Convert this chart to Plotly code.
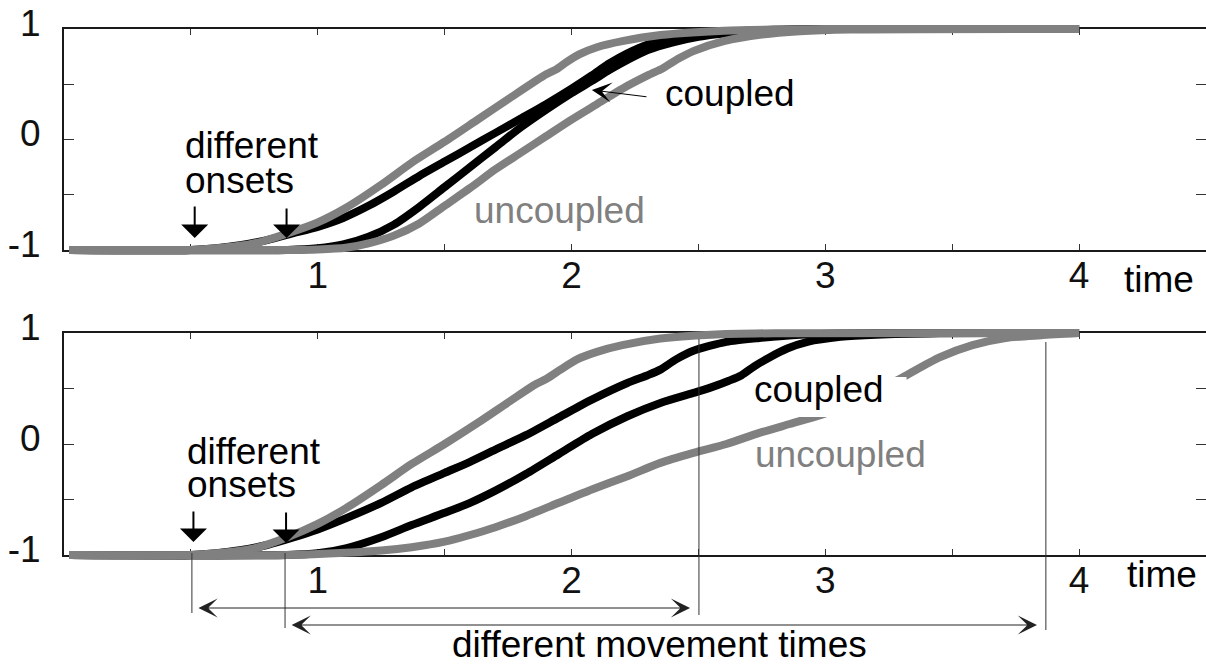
import plotly.graph_objects as go

# ------------------------------------------------------------------ data
# Top panel: "different onsets" only
TOP_G1_X = [0.02, 0.5, 0.6, 0.75, 0.88, 1.0, 1.11, 1.25, 1.37, 1.5, 1.63, 1.76, 1.9, 1.94, 1.98, 2.03, 2.1, 2.2, 2.35, 2.6, 3.0, 4.0]
TOP_G1_Y = [-1, -1, -0.985, -0.94, -0.85, -0.75, -0.62, -0.41, -0.21, -0.02, 0.18, 0.38, 0.59, 0.635, 0.70, 0.77, 0.835, 0.89, 0.945, 0.985, 1.0, 1.0]

TOP_B1_X = [0.02, 0.5, 0.6, 0.7, 0.8, 0.9, 1.0, 1.1, 1.2, 1.3, 1.4, 1.5, 1.6, 1.7, 1.8, 1.9, 2.0, 2.08, 2.15, 2.22, 2.3, 2.4, 2.5, 2.6, 2.75, 3.0, 4.0]
TOP_B1_Y = [-1, -1, -0.985, -0.955, -0.91, -0.85, -0.79, -0.71, -0.60, -0.47, -0.33, -0.20, -0.07, 0.06, 0.19, 0.32, 0.46, 0.58, 0.69, 0.78, 0.86, 0.91, 0.945, 0.97, 0.99, 1.0, 1.0]

TOP_B2_X = [0.02, 0.88, 1.0, 1.1, 1.2, 1.3, 1.4, 1.5, 1.6, 1.7, 1.8, 1.9, 2.0, 2.08, 2.15, 2.22, 2.3, 2.4, 2.5, 2.6, 2.75, 3.0, 4.0]
TOP_B2_Y = [-1, -1, -0.985, -0.95, -0.88, -0.77, -0.61, -0.43, -0.25, -0.07, 0.11, 0.27, 0.42, 0.53, 0.63, 0.72, 0.81, 0.88, 0.93, 0.96, 0.985, 1.0, 1.0]

TOP_G2_X = [0.02, 0.88, 1.0, 1.11, 1.2, 1.3, 1.4, 1.5, 1.6, 1.7, 1.8, 1.9, 2.0, 2.1, 2.2, 2.3, 2.36, 2.42, 2.48, 2.6, 2.75, 2.9, 3.1, 4.0]
TOP_G2_Y = [-1, -1, -0.995, -0.98, -0.94, -0.87, -0.76, -0.60, -0.44, -0.27, -0.12, 0.03, 0.18, 0.32, 0.46, 0.58, 0.645, 0.73, 0.80, 0.89, 0.95, 0.98, 0.995, 1.0]

# Bottom panel: different onsets and different movement times
BOT_G1_X = [0.02, 0.5, 0.6, 0.75, 0.88, 1.0, 1.11, 1.25, 1.37, 1.5, 1.63, 1.76, 1.86, 1.9, 1.95, 2.02, 2.1, 2.2, 2.35, 2.55, 2.8, 4.0]
BOT_G1_Y = [-1, -1, -0.985, -0.94, -0.84, -0.72, -0.58, -0.37, -0.18, 0.0, 0.19, 0.39, 0.54, 0.585, 0.66, 0.76, 0.83, 0.89, 0.95, 0.985, 0.998, 1.0]

BOT_B1_X = [0.02, 0.5, 0.6, 0.7, 0.8, 0.9, 1.0, 1.11, 1.25, 1.37, 1.5, 1.6, 1.7, 1.82, 1.95, 2.08, 2.22, 2.3, 2.35, 2.41, 2.48, 2.61, 2.74, 2.9, 3.2, 4.0]
BOT_B1_Y = [-1, -1, -0.985, -0.955, -0.91, -0.845, -0.77, -0.67, -0.53, -0.39, -0.26, -0.16, -0.05, 0.08, 0.24, 0.40, 0.55, 0.62, 0.67, 0.76, 0.84, 0.92, 0.955, 0.985, 1.0, 1.0]

BOT_B2_X = [0.02, 0.88, 1.0, 1.11, 1.25, 1.37, 1.5, 1.6, 1.7, 1.82, 1.95, 2.08, 2.22, 2.35, 2.48, 2.55, 2.62, 2.67, 2.72, 2.78, 2.85, 2.93, 3.06, 3.2, 3.45, 4.0]
BOT_B2_Y = [-1, -1, -0.985, -0.94, -0.84, -0.73, -0.62, -0.53, -0.42, -0.27, -0.09, 0.09, 0.25, 0.37, 0.46, 0.51, 0.57, 0.62, 0.70, 0.78, 0.86, 0.92, 0.965, 0.985, 0.998, 1.0]

BOT_G2_X = [0.02, 0.88, 1.11, 1.25, 1.37, 1.5, 1.6, 1.7, 1.82, 1.95, 2.08, 2.22, 2.35, 2.48, 2.61, 2.74, 2.86, 2.98, 3.1, 3.2, 3.32, 3.45, 3.58, 3.71, 3.85, 4.0]
BOT_G2_Y = [-1, -1, -0.98, -0.96, -0.93, -0.88, -0.82, -0.75, -0.65, -0.53, -0.41, -0.29, -0.17, -0.08, 0.0, 0.10, 0.18, 0.26, 0.36, 0.47, 0.62, 0.78, 0.89, 0.955, 0.98, 1.0]

ONSET_ARROW_X = [0.515, 0.877]        # "different onsets" arrows
ONSET_TIMES = [0.504, 0.871]          # movement start
END_TIMES = [2.502, 3.869]            # movement end

X_TICKS = [0.5, 1, 1.5, 2, 2.5, 3, 3.5, 4]
X_TICK_TEXT = ["", "1", "", "2", "", "3", "", "4"]
Y_TICKS = [-1, -0.5, 0, 0.5, 1]
Y_TICK_TEXT = ["-1", "", "0", "", "1"]

# ------------------------------------------------------------------ layout helpers
W, H = 1206, 664
M_L = 64
FONT = "Liberation Sans, Arial, Helvetica, sans-serif"
FS = 37
GRAY = "#808080"
BLACK = "#000000"
AXC = "#1a1a1a"


def py2paper(py):
    return 1 - py / H


TOP_PX = (29, 250)
BOT_PX = (333, 555)
PAD = 12


def frame_domain(p):
    return [py2paper(p[1]), py2paper(p[0])]


def data_domain_range(p):
    ppu = (p[1] - p[0]) / 2.0
    ext = PAD / ppu
    return [py2paper(p[1] + PAD), py2paper(p[0] - PAD)], [-1 - ext, 1 + ext]


fig = go.Figure()

top_dd, top_dr = data_domain_range(TOP_PX)
bot_dd, bot_dr = data_domain_range(BOT_PX)


def add_curve(xs, ys, color, xa, ya):
    fig.add_trace(go.Scatter(x=xs, y=ys, mode="lines",
                             line=dict(color=color, width=8, shape="spline", smoothing=0.7),
                             xaxis=xa, yaxis=ya, showlegend=False, hoverinfo="skip"))


# frame subplots (empty traces so the axes get drawn)
fig.add_trace(go.Scatter(x=[], y=[], xaxis="x", yaxis="y", showlegend=False))
fig.add_trace(go.Scatter(x=[], y=[], xaxis="x3", yaxis="y3", showlegend=False))

add_curve(TOP_B1_X, TOP_B1_Y, BLACK, "x2", "y2")
add_curve(TOP_B2_X, TOP_B2_Y, BLACK, "x2", "y2")
add_curve(TOP_G1_X, TOP_G1_Y, GRAY, "x2", "y2")
add_curve(TOP_G2_X, TOP_G2_Y, GRAY, "x2", "y2")

add_curve(BOT_B1_X, BOT_B1_Y, BLACK, "x4", "y4")
add_curve(BOT_B2_X, BOT_B2_Y, BLACK, "x4", "y4")
add_curve(BOT_G1_X, BOT_G1_Y, GRAY, "x4", "y4")
add_curve(BOT_G2_X, BOT_G2_Y, GRAY, "x4", "y4")

tickfont = dict(family=FONT, size=FS, color="#111")


def frame_x(anchor):
    return dict(domain=[0, 1], range=[0, 4.5], anchor=anchor, showline=True, linecolor=AXC,
                linewidth=2, mirror="ticks", ticks="inside", ticklen=6, tickwidth=1,
                tickcolor="#333", tickvals=X_TICKS, ticktext=X_TICK_TEXT, tickfont=tickfont,
                showgrid=False, zeroline=False, ticklabelstandoff=-8, automargin=False)


def frame_y(dom, anchor):
    return dict(domain=dom, range=[-1, 1], anchor=anchor, showline=True, linecolor=AXC,
                linewidth=2, ticks="inside", ticklen=10, tickwidth=1, tickcolor="#333",
                tickvals=Y_TICKS, ticktext=Y_TICK_TEXT, tickfont=tickfont,
                showgrid=False, zeroline=False, ticklabelstandoff=14, ticklabelshift=-6,
                automargin=False)


def data_x(anchor):
    return dict(domain=[0, 1], range=[0, 4.5], anchor=anchor, visible=False, automargin=False)


def data_y(dom, rng, anchor):
    return dict(domain=dom, range=rng, anchor=anchor, side="right", showline=False,
                ticks="inside", ticklen=10, tickwidth=1, tickcolor="#333",
                tickvals=[-0.5, 0, 0.5], showticklabels=False, showgrid=False, zeroline=False,
                automargin=False)


fig.update_layout(
    template="none",
    width=W, height=H, autosize=False,
    margin=dict(l=M_L, r=0, t=0, b=0, pad=0),
    paper_bgcolor="white", plot_bgcolor="rgba(0,0,0,0)",
    font=dict(family=FONT, size=FS, color="#000"),
    showlegend=False,
    xaxis=frame_x("y"),
    yaxis=frame_y(frame_domain(TOP_PX), "x"),
    xaxis2=data_x("y2"),
    yaxis2=data_y(top_dd, top_dr, "x2"),
    xaxis3=frame_x("y3"),
    yaxis3=frame_y(frame_domain(BOT_PX), "x3"),
    xaxis4=data_x("y4"),
    yaxis4=data_y(bot_dd, bot_dr, "x4"),
)

# white box behind the lower "coupled" label (hides part of the uncoupled curve)
fig.add_shape(type="rect", xref="x3", yref="y3", x0=2.9, x1=3.32, y0=0.243, y1=0.604,
              fillcolor="white", line=dict(width=0), layer="above")

# movement time marker lines (bottom panel)
for xv, (p0, p1) in zip(ONSET_TIMES + END_TIMES, [(553, 613), (553, 628), (339, 615), (342, 630)]):
    fig.add_shape(type="line", xref="x3", yref="paper", x0=xv, x1=xv,
                  y0=py2paper(p1), y1=py2paper(p0), line=dict(color="#333", width=1), layer="above")


def text(x, y, s, xref, yref, color="#000", xanchor="left", height=None):
    fig.add_annotation(x=x, y=y, xref=xref, yref=yref, text=s, showarrow=False,
                       xanchor=xanchor, yanchor="middle", height=height,
                       font=dict(family=FONT, size=FS, color=color))


def arrow(x, y, ax, ay, xref, yref, head, size, width, color="#000"):
    fig.add_annotation(x=x, y=y, ax=ax, ay=ay, xref=xref, yref=yref, axref=xref, ayref=yref,
                       text="", showarrow=True, arrowhead=head, arrowsize=size,
                       arrowwidth=width, arrowcolor=color)


# top panel labels
text(0.469, -0.05, "different", "x", "y", height=33)
text(0.469, -0.367, "onsets", "x", "y", height=33)
text(2.36, 0.414, "coupled", "x", "y")
text(1.608, -0.638, "uncoupled", "x", "y", color=GRAY)
arrow(2.080, 0.448, 2.301, 0.385, "x", "y", 3, 3.3, 1)
arrow(ONSET_ARROW_X[0], -0.891, ONSET_ARROW_X[0], -0.593, "x", "y", 1, 2.25, 2)
arrow(ONSET_ARROW_X[1], -0.891, ONSET_ARROW_X[1], -0.611, "x", "y", 1, 2.25, 2)
text(4.314, py2paper(279), "time", "x", "paper", xanchor="center")

# bottom panel labels
text(0.477, -0.072, "different", "x3", "y3", height=33)
text(0.477, -0.369, "onsets", "x3", "y3", height=33)
text(2.711, 0.495, "coupled", "x3", "y3")
text(2.715, -0.099, "uncoupled", "x3", "y3", color=GRAY)
arrow(ONSET_ARROW_X[0] - 0.005, -0.883, ONSET_ARROW_X[0] - 0.005, -0.595, "x3", "y3", 1, 2.25, 2)
arrow(ONSET_ARROW_X[1] - 0.002, -0.892, ONSET_ARROW_X[1] - 0.002, -0.604, "x3", "y3", 1, 2.25, 2)
text(4.328, py2paper(574), "time", "x3", "paper", xanchor="center")

# double-headed movement-time arrows
for (s, e), py in zip(zip(ONSET_TIMES, END_TIMES), [608, 625]):
    fig.add_annotation(x=e - 0.035, y=py2paper(py), xref="x3", yref="paper",
                       ax=s + 0.02, ay=0, axref="x3", ayref="pixel",
                       text="", showarrow=True, arrowside="end+start",
                       arrowhead=3, startarrowhead=3, arrowsize=3.2, startarrowsize=3.2,
                       arrowwidth=1, arrowcolor="#222")
text(2.346, py2paper(644), "different movement times", "x3", "paper", xanchor="center")

fig.write_html("out.html", config={"displayModeBar": False},
               post_script="document.body.style.margin='0px';")
